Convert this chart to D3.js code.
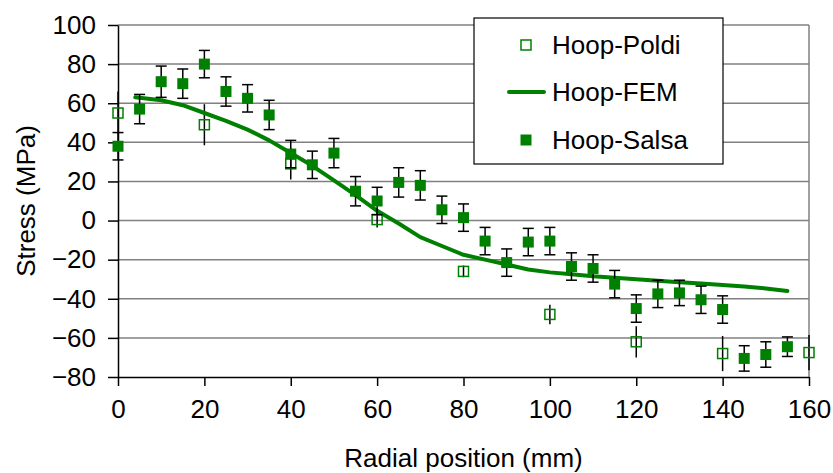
<!DOCTYPE html>
<html>
<head>
<meta charset="utf-8">
<script src="https://cdn.jsdelivr.net/npm/d3@7"></script>
<style>
  body { margin: 0; background: #fff; }
  svg { display: block; font-family: Arial, "Liberation Sans", sans-serif; }
</style>
</head>
<body>
<svg id="chart" width="833" height="473"></svg>
<script>
//DATA
var salsaX = [0,5,10,15,20,25,30,35,40,45,50,55,60,65,70,75,80,85,90,95,100,105,110,115,120,125,130,135,140,145,150,155];
var salsaY = [38,57,71,70,80,66,62.5,54,34,28.5,34.5,15,10,19.5,18,5.5,1.5,-10.5,-21.5,-11,-10.5,-23.5,-24.5,-32.5,-45,-37.5,-37,-40.5,-45.5,-70.5,-68.5,-64.5];
var salsaErr = [7,7.5,8,7.5,7,7.5,7,7.5,7,7,7.5,7.5,7,7.5,7.5,7,7,7,7,7,7,7,7,7,7,7,6.5,7,7,6.5,6.5,5];

var poldiX = [0,20,40,60,80,100,120,140,160];
var poldiY = [55,49,29,0.5,-26,-48,-62,-68,-67.5];
var poldiErr = [11,10.5,8,4,3,5,8,9,9];

var femX = [4,10,15,20,25,30,35,40,45,50,55,60,65,70,75,80,85,90,95,100,105,110,115,120,125,130,135,140,145,150,155];
var femY = [63,61.5,59,55,51,46.5,41,34.5,28,20.5,13,5,-1.5,-8.5,-13,-17.5,-20,-22.5,-25,-26.5,-27.5,-28.5,-29.2,-30,-30.8,-31.5,-32.2,-33,-33.7,-34.7,-36];

var xTicks = [0,20,40,60,80,100,120,140,160];
var yTicks = [100,80,60,40,20,0,-20,-40,-60,-80];
var seriesNames = ["Hoop-Poldi","Hoop-FEM","Hoop-Salsa"];

//LAYOUT
var green = "#008000";
var plotL = 118, plotR = 809, plotT = 25, plotB = 377;

var svg = d3.select("#chart");
var x = d3.scaleLinear().domain([0,160]).range([plotL,plotR]);
var y = d3.scaleLinear().domain([-80,100]).range([plotB,plotT]);

//gridlines + right border
svg.append("g").selectAll("line").data(yTicks.filter(d => d > -80))
  .join("line")
  .attr("x1", plotL).attr("x2", plotR)
  .attr("y1", d => y(d)).attr("y2", d => y(d))
  .attr("stroke", "#808080").attr("stroke-width", 1.5);
svg.append("line")
  .attr("x1", plotR).attr("x2", plotR).attr("y1", plotT).attr("y2", plotB)
  .attr("stroke", "#808080").attr("stroke-width", 1.5);

//axes
let yAxis = svg.append("g")
  .attr("transform", "translate(" + plotL + ",0)")
  .call(d3.axisLeft(y).tickValues(yTicks).tickSize(10).tickSizeOuter(0).tickPadding(12));
let xAxis = svg.append("g")
  .attr("transform", "translate(0," + plotB + ")")
  .call(d3.axisBottom(x).tickValues(xTicks).tickSize(9).tickSizeOuter(0).tickPadding(14));
[xAxis, yAxis].forEach(function(a){
  a.select(".domain").attr("stroke", "#000").attr("stroke-width", 1.5);
  a.selectAll(".tick line").attr("stroke", "#000").attr("stroke-width", 1.5);
  a.selectAll("text").attr("fill", "#000").style("font-size", "26px")
    .style("font-family", "Arial, 'Liberation Sans', sans-serif");
});

//axis titles
svg.append("text")
  .attr("x", (plotL+plotR)/2).attr("y", 467)
  .attr("text-anchor", "middle").style("font-size", "26px")
  .text("Radial position (mm)");
svg.append("text")
  .attr("transform", "translate(35," + ((plotT+plotB)/2) + ") rotate(-90)")
  .attr("text-anchor", "middle").style("font-size", "26px")
  .text("Stress (MPa)");

//POLDI (open squares, error bars without caps)
let poldi = poldiX.map((d,i) => ({x: d, y: poldiY[i], e: poldiErr[i]}));
svg.append("g").selectAll("line").data(poldi)
  .join("line")
  .attr("x1", d => x(d.x)).attr("x2", d => x(d.x))
  .attr("y1", d => y(d.y + d.e)).attr("y2", d => y(d.y - d.e))
  .attr("stroke", "#000").attr("stroke-width", 1.5);
svg.append("g").selectAll("rect").data(poldi)
  .join("rect")
  .attr("x", d => x(d.x) - 5).attr("y", d => y(d.y) - 5)
  .attr("width", 10).attr("height", 10)
  .attr("fill", "none").attr("stroke", green).attr("stroke-width", 1.5);

//FEM line
let fem = femX.map((d,i) => [d, femY[i]]);
svg.append("path")
  .datum(fem)
  .attr("d", d3.line().x(d => x(d[0])).y(d => y(d[1])))
  .attr("fill", "none").attr("stroke", green).attr("stroke-width", 4)
  .attr("stroke-linejoin", "round").attr("stroke-linecap", "round");

//SALSA (filled squares, capped error bars)
let salsa = salsaX.map((d,i) => ({x: d, y: salsaY[i], e: salsaErr[i]}));
let errG = svg.append("g").attr("stroke", "#000").attr("stroke-width", 1.5);
errG.selectAll("line.v").data(salsa).join("line").attr("class", "v")
  .attr("x1", d => x(d.x)).attr("x2", d => x(d.x))
  .attr("y1", d => y(d.y + d.e)).attr("y2", d => y(d.y - d.e));
errG.selectAll("line.t").data(salsa).join("line").attr("class", "t")
  .attr("x1", d => x(d.x) - 5.5).attr("x2", d => x(d.x) + 5.5)
  .attr("y1", d => y(d.y + d.e)).attr("y2", d => y(d.y + d.e));
errG.selectAll("line.b").data(salsa).join("line").attr("class", "b")
  .attr("x1", d => x(d.x) - 5.5).attr("x2", d => x(d.x) + 5.5)
  .attr("y1", d => y(d.y - d.e)).attr("y2", d => y(d.y - d.e));
svg.append("g").selectAll("rect").data(salsa)
  .join("rect")
  .attr("x", d => x(d.x) - 5.5).attr("y", d => y(d.y) - 5.5)
  .attr("width", 11).attr("height", 11)
  .attr("fill", green);

//LEGEND
let legend = svg.append("g");
legend.append("rect")
  .attr("x", 474).attr("y", 18).attr("width", 249).attr("height", 146)
  .attr("fill", "#fff").attr("stroke", "#000").attr("stroke-width", 1.2);
let rowY = [45, 92, 140];
legend.selectAll("text").data(seriesNames).join("text")
  .attr("x", 552).attr("y", (d,i) => rowY[i] + 9)
  .style("font-size", "26px").text(d => d);
legend.append("rect")
  .attr("x", 521).attr("y", rowY[0] - 5).attr("width", 10).attr("height", 10)
  .attr("fill", "none").attr("stroke", green).attr("stroke-width", 1.5);
legend.append("line")
  .attr("x1", 509).attr("x2", 544).attr("y1", rowY[1]).attr("y2", rowY[1])
  .attr("stroke", green).attr("stroke-width", 4).attr("stroke-linecap", "round");
legend.append("rect")
  .attr("x", 520.5).attr("y", rowY[2] - 5.5).attr("width", 11).attr("height", 11)
  .attr("fill", green);
</script>
</body>
</html>
